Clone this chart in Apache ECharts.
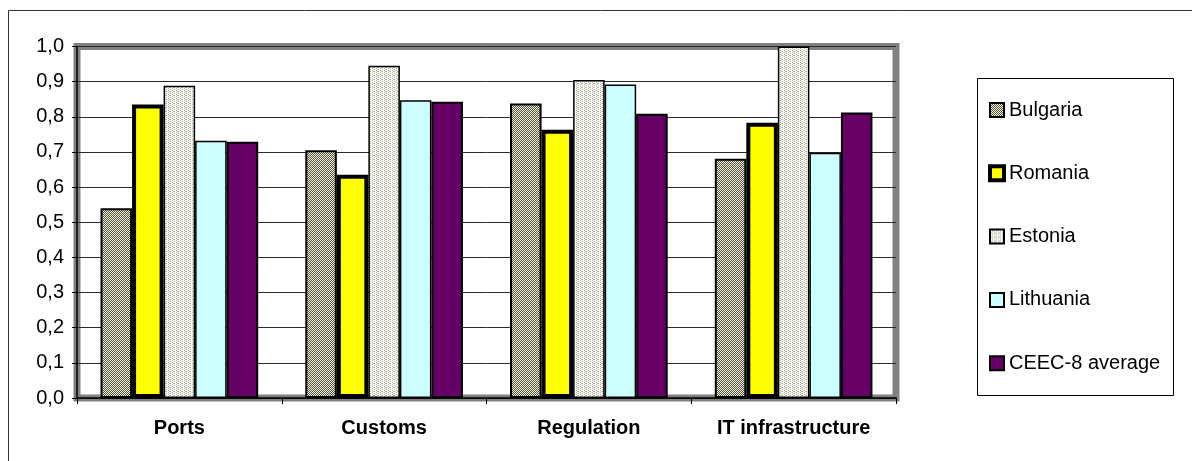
<!DOCTYPE html>
<html>
<head>
<meta charset="utf-8">
<script src="https://cdn.jsdelivr.net/npm/echarts@6/dist/echarts.min.js"></script>
<style>
    html, body { margin: 0; padding: 0; background: #fff; }
    #chart { width: 1192px; height: 461px; }
</style>
</head>
<body>
<div id="chart"></div>
<script>
// 数据
var categories = ['Ports', 'Customs', 'Regulation', 'IT infrastructure'];
var seriesNames = ['Bulgaria', 'Romania', 'Estonia', 'Lithuania', 'CEEC-8 average'];
var bulgaria = [0.54, 0.705, 0.838, 0.681];
var romania = [0.835, 0.635, 0.763, 0.783];
var estonia = [0.888, 0.945, 0.905, 1.0];
var lithuania = [0.732, 0.847, 0.892, 0.698];
var ceecAvg = [0.729, 0.843, 0.809, 0.812];
var yTicks = [0, 0.1, 0.2, 0.3, 0.4, 0.5, 0.6, 0.7, 0.8, 0.9, 1.0];

// 填充图案
function makePattern(bg, fg, pixels) {
    var c = document.createElement('canvas');
    c.width = 4;
    c.height = 4;
    var ctx = c.getContext('2d');
    ctx.fillStyle = bg;
    ctx.fillRect(0, 0, 4, 4);
    ctx.fillStyle = fg;
    pixels.forEach(function(p) {
        ctx.fillRect(p[0], p[1], 1, 1);
    });
    return { image: c, repeat: 'repeat' };
}

var hatch = makePattern('#f0f0de', '#56563f', [
    [3, 0], [2, 1], [1, 2], [0, 3], [1, 0], [0, 1], [3, 2], [2, 3]
]);
var dots = makePattern('#fbfbf7', '#b4b4a4', [
    [0, 0], [2, 1], [0, 2], [2, 3], [1, 3]
]);

var styles = [
    { color: hatch, borderColor: '#000', borderWidth: 2 },
    { color: '#ffff00', borderColor: '#000', borderWidth: 4 },
    { color: dots, borderColor: '#000', borderWidth: 1.5 },
    { color: '#ccffff', borderColor: '#000', borderWidth: 1.5 },
    { color: '#660066', borderColor: '#000', borderWidth: 2 }
];
var values = [bulgaria, romania, estonia, lithuania, ceecAvg];

var myChart = echarts.init(document.getElementById('chart'));

var series = seriesNames.map(function(name, i) {
    return {
        name: name,
        type: 'bar',
        data: values[i],
        barGap: '0%',
        barCategoryGap: '23%',
        itemStyle: styles[i]
    };
});

var option = {
    animation: false,
    backgroundColor: '#fff',
    textStyle: { fontFamily: 'Liberation Sans, Arial, sans-serif' },
    graphic: [{
        // 外框
        type: 'rect',
        shape: { x: 8.5, y: 10.5, width: 1300, height: 600 },
        style: { fill: 'none', stroke: '#333', lineWidth: 1 },
        silent: true
    }, {
        // 图例框
        type: 'rect',
        shape: { x: 977.5, y: 78.5, width: 196, height: 317 },
        style: { fill: '#fff', stroke: '#000', lineWidth: 1 },
        silent: true,
        z: 0
    }],
    grid: {
        left: 77,
        right: 296,
        top: 46.5,
        bottom: 63,
        show: true,
        backgroundColor: '#fff',
        borderColor: '#808080',
        borderWidth: 7
    },
    legend: {
        orient: 'vertical',
        left: 983,
        top: 95,
        itemWidth: 14,
        itemHeight: 14,
        itemGap: 43.3,
        textStyle: {
            fontSize: 20,
            lineHeight: 20,
            color: '#000',
            fontFamily: 'Liberation Sans, Arial, sans-serif'
        },
        data: seriesNames.map(function(n, i) {
            return { name: n, icon: 'rect', itemStyle: { borderColor: '#000', borderWidth: i === 1 ? 4 : 2 } };
        })
    },
    xAxis: {
        type: 'category',
        data: categories,
        axisLine: { show: true, lineStyle: { color: '#000', width: 1.5 } },
        axisTick: { show: true, length: 6, lineStyle: { color: '#000' } },
        axisLabel: {
            fontSize: 20,
            fontWeight: 'bold',
            color: '#000',
            margin: 20,
            fontFamily: 'Liberation Sans, Arial, sans-serif'
        }
    },
    yAxis: {
        type: 'value',
        min: yTicks[0],
        max: yTicks[yTicks.length - 1],
        interval: 0.1,
        axisLine: { show: true, lineStyle: { color: '#000', width: 1.5 } },
        axisTick: { show: true, length: 5, lineStyle: { color: '#000' } },
        splitLine: { show: true, lineStyle: { color: '#2a2a2a', width: 1 } },
        axisLabel: {
            fontSize: 20,
            color: '#000',
            margin: 13,
            fontFamily: 'Liberation Sans, Arial, sans-serif',
            formatter: function(v) {
                return v.toFixed(1).replace('.', ',');
            }
        }
    },
    series: series
};

myChart.setOption(option);
</script>
</body>
</html>
